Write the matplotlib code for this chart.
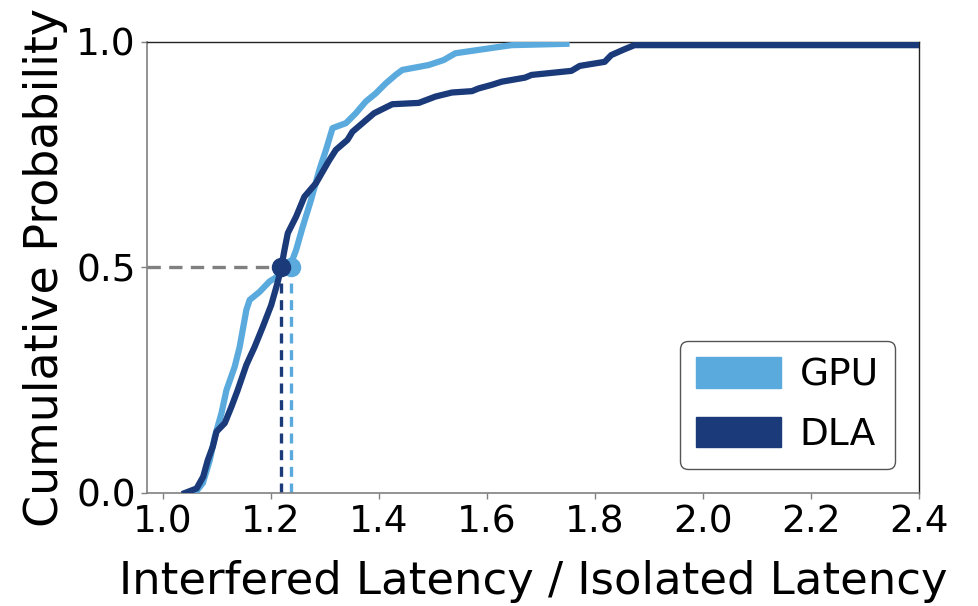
import matplotlib
matplotlib.use("Agg")
import matplotlib.pyplot as plt
from matplotlib.patches import Patch

# GPU CDF (x = interfered/isolated latency, y = cumulative probability)
gpu_x = [1.059, 1.0737, 1.0866, 1.0959, 1.1082, 1.1174, 1.1327, 1.1419, 1.1543, 1.1604,
         1.1788, 1.1972, 1.212, 1.2304, 1.2396, 1.2465, 1.2586, 1.2741, 1.2894, 1.3018,
         1.3139, 1.3386, 1.357, 1.3755, 1.3939, 1.4123, 1.4308, 1.443, 1.4922, 1.5198,
         1.5414, 1.6273, 1.6457, 1.7471]
gpu_y = [0.0, 0.022, 0.073, 0.125, 0.177, 0.228, 0.280, 0.324, 0.406, 0.428,
         0.446, 0.469, 0.480, 0.494, 0.517, 0.539, 0.590, 0.650, 0.716, 0.761,
         0.809, 0.820, 0.842, 0.868, 0.886, 0.908, 0.927, 0.938, 0.949, 0.960,
         0.975, 0.990, 0.993, 0.996]

# DLA CDF
dla_x = [1.0406, 1.0621, 1.0743, 1.0829, 1.0922, 1.099, 1.1143, 1.1266, 1.1382, 1.1543,
         1.1696, 1.1849, 1.2004, 1.212, 1.2188, 1.2249, 1.231, 1.2465, 1.2618, 1.2833,
         1.3078, 1.3202, 1.3416, 1.3508, 1.3908, 1.4245, 1.4737, 1.5045, 1.5351, 1.572,
         1.5843, 1.6088, 1.6273, 1.6704, 1.6826, 1.7563, 1.7718, 1.8179, 1.8301, 1.8547,
         1.8732, 2.45]
dla_y = [0.0, 0.010, 0.036, 0.073, 0.103, 0.136, 0.155, 0.191, 0.228, 0.284,
         0.324, 0.369, 0.417, 0.466, 0.499, 0.539, 0.576, 0.613, 0.657, 0.687,
         0.738, 0.761, 0.783, 0.801, 0.842, 0.862, 0.865, 0.879, 0.888, 0.891,
         0.897, 0.905, 0.912, 0.921, 0.927, 0.936, 0.947, 0.956, 0.971, 0.984,
         0.993, 0.993]

gpu_median = 1.237
dla_median = 1.218

series_names = ["GPU", "DLA"]
gpu_color = "#5aaadd"
dla_color = "#1a3a7a"

x_ticks = [1.0, 1.2, 1.4, 1.6, 1.8, 2.0, 2.2, 2.4]
y_ticks = [0.0, 0.5, 1.0]

fig = plt.figure(figsize=(9.79, 6.06), dpi=100)
ax = fig.add_axes([0.150, 0.1865, 0.7887, 0.7442])

ax.plot(gpu_x, gpu_y, color=gpu_color, lw=4.5, zorder=3)
ax.plot(dla_x, dla_y, color=dla_color, lw=4.5, zorder=4)

# median guides
ax.plot([0.97, dla_median], [0.5, 0.5], color="#808080", lw=2.4, ls=(0, (4, 2.5)), zorder=2)
ax.plot([gpu_median, gpu_median], [0, 0.5], color=gpu_color, lw=2.4, ls=(0, (3, 2)), zorder=2)
ax.plot([dla_median, dla_median], [0, 0.5], color=dla_color, lw=2.4, ls=(0, (3, 2)), zorder=2)
ax.plot([gpu_median], [0.5], 'o', color=gpu_color, ms=13, zorder=5)
ax.plot([dla_median], [0.5], 'o', color=dla_color, ms=13, zorder=6)

ax.set_xlim(0.97, 2.4)
ax.set_ylim(0, 1.0)
ax.set_xticks(x_ticks)
ax.set_xticklabels([f"{v:.1f}" for v in x_ticks])
ax.set_yticks(y_ticks)
ax.set_yticklabels([f"{v:.1f}" for v in y_ticks])
ax.tick_params(axis='both', labelsize=27, color="#808080", length=4, width=1, pad=4)

for s in ["left", "bottom"]:
    ax.spines[s].set_color("#808080")
    ax.spines[s].set_linewidth(1.2)
for s in ["top", "right"]:
    ax.spines[s].set_color("#222222")
    ax.spines[s].set_linewidth(1.0)

ax.set_xlabel("Interfered Latency / Isolated Latency", fontsize=32.3, labelpad=14)
ax.set_ylabel("Cumulative Probability", fontsize=33, labelpad=6)

handles = [Patch(facecolor=gpu_color, edgecolor=gpu_color),
           Patch(facecolor=dla_color, edgecolor=dla_color)]
leg = ax.legend(handles, series_names, loc="lower right", fontsize=27,
                handlelength=2.27, handleheight=0.88, handletextpad=0.5,
                borderpad=0.42, labelspacing=0.62, framealpha=1,
                borderaxespad=0.65, fancybox=True)
leg.get_frame().set_edgecolor("#555555")
leg.get_frame().set_linewidth(1.0)

fig.savefig("out.png", dpi=100)
